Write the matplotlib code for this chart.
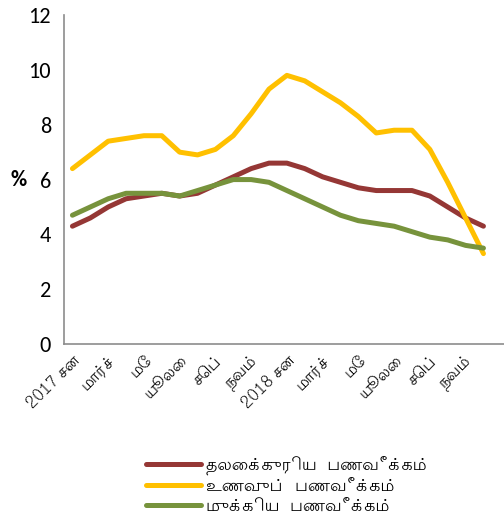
import matplotlib
matplotlib.use('Agg')
import matplotlib.pyplot as plt
import numpy as np

# monthly, Jan 2017 .. Dec 2018
headline = [4.3, 4.6, 5.0, 5.3, 5.4, 5.5, 5.4, 5.5, 5.8, 6.1, 6.4, 6.6,
            6.6, 6.4, 6.1, 5.9, 5.7, 5.6, 5.6, 5.6, 5.4, 5.0, 4.6, 4.3]
food = [6.4, 6.9, 7.4, 7.5, 7.6, 7.6, 7.0, 6.9, 7.1, 7.6, 8.4, 9.3,
        9.8, 9.6, 9.2, 8.8, 8.3, 7.7, 7.8, 7.8, 7.1, 5.9, 4.6, 3.3]
core = [4.7, 5.0, 5.3, 5.5, 5.5, 5.5, 5.4, 5.6, 5.8, 6.0, 6.0, 5.9,
        5.6, 5.3, 5.0, 4.7, 4.5, 4.4, 4.3, 4.1, 3.9, 3.8, 3.6, 3.5]
tick_labels = ['2017 சன', 'மார்ச்', 'மே', 'யூலை', 'செப்', 'நவம்',
               '2018 சன', 'மார்ச்', 'மே', 'யூலை', 'செப்', 'நவம்']
series_names = ['தலைக்குரிய  பணவீக்கம்', 'உணவுப்  பணவீக்கம்', 'முக்கிய  பணவீக்கம்']
colors = ['#953735', '#FFC000', '#77933C']

tamil = ['Lohit Tamil', 'DejaVu Sans']
num_font = ['Carlito', 'Liberation Sans', 'DejaVu Sans']

fig = plt.figure(figsize=(5.04, 5.19), dpi=100)
ax = fig.add_axes([0.126, 0.337, 0.874, 0.634])

x = np.arange(len(headline))
for vals, c, name in zip([headline, food, core], colors, series_names):
    ax.plot(x, vals, color=c, lw=3.6, solid_capstyle='round', label=name)

ax.set_xlim(-0.5, 24.15)
ax.set_ylim(0, 12)
ax.set_yticks(range(0, 13, 2))
ax.set_yticklabels([str(v) for v in range(0, 13, 2)], family=num_font, fontsize=16)
ax.set_xticks(x[::2])
ax.set_xticklabels(tick_labels, rotation=45, ha='right', rotation_mode='anchor',
                   family=tamil, fontsize=11.5)
ax.tick_params(axis='both', length=0)
ax.tick_params(axis='y', pad=9)
ax.tick_params(axis='x', pad=6)

for s in ['top', 'right']:
    ax.spines[s].set_visible(False)
for s in ['left', 'bottom']:
    ax.spines[s].set_color('#8c8c8c')
    ax.spines[s].set_linewidth(1.2)

fig.text(0.036, 0.653, '%', family=num_font, fontsize=16, fontweight='bold',
         ha='center', va='center')

leg = ax.legend(loc='upper left', frameon=False,
                prop={'family': tamil, 'size': 12.5}, handlelength=3.2,
                handletextpad=0.3, labelspacing=0.1, borderaxespad=0)
leg.set_bbox_to_anchor((0.275, 0.135), transform=fig.transFigure)

fig.savefig('out.png', dpi=100)
